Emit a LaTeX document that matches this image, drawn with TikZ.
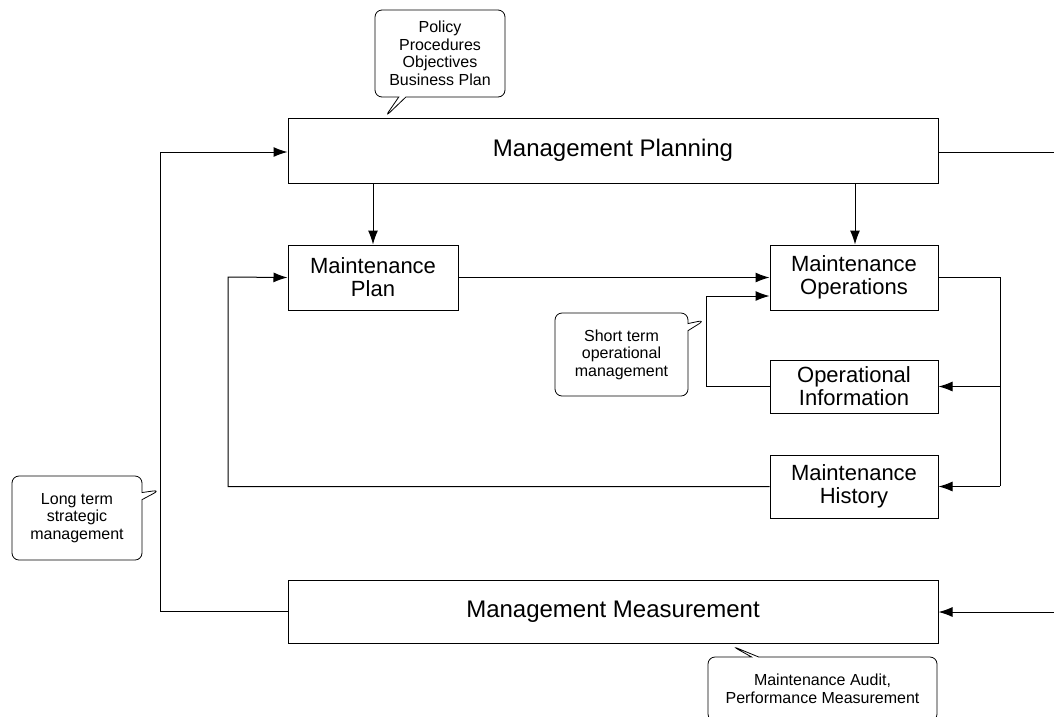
\documentclass[tikz,border=0pt]{standalone}
\usepackage{fontspec}
\setmainfont{Liberation Sans}
\usepackage{tikz}
\usetikzlibrary{positioning}
\usetikzlibrary{calc}
\usetikzlibrary{arrows.meta}
\usetikzlibrary{shapes.callouts}

\begin{document}
\begin{tikzpicture}[x=1pt, y=-1pt,
    box/.style={draw=black, line width=1pt, align=center, inner sep=0pt},
    bigbox/.style={box, minimum width=650pt, font=\fontsize{24}{28}\selectfont},
    smallbox/.style={box, minimum width=168pt, font=\fontsize{22}{23}\selectfont},
    note/.style={rectangle callout, draw=black, line width=0.8pt, rounded corners=7pt,
      align=center, inner sep=0pt, font=\fontsize{16}{17.5}\selectfont},
    flow/.style={line width=1pt, -{Latex[length=14pt,width=10pt]}},
    link/.style={line width=1pt}]
      \useasboundingbox (0,0) rectangle (1054,716);
      % x-position of the left return line
      \def\xleft{160}
      % x-position of the right feedback line
      \def\xright{1000}
      % Main planning and measurement boxes
      \node[bigbox, minimum height=65pt] (plan) at (613,150.5) {Management Planning};
      \node[bigbox, minimum height=63pt] (meas) at (613,611.5) {Management Measurement};
      % Inner boxes
      \node[smallbox, minimum width=170pt, minimum height=65pt] (mplan) at (373,277.5) {Maintenance\\Plan};
      \node[smallbox, minimum height=65pt] (mops) at (854,277.5) {Maintenance\\Operations};
      \node[smallbox, minimum height=53pt] (oinfo) at (854,386.5) {Operational\\Information};
      \node[smallbox, minimum height=63pt] (mhist) at (854,486.5) {Maintenance\\History};
      % Free ends at the right edge
      \coordinate (rtop) at (1054,152);
      \coordinate (rbot) at (1054,612);
      % Top-down arrows
      \draw[flow] (plan.south -| mplan.north) -- (mplan.north);
      \draw[flow] (plan.south -| 855,0) -- (855,0 |- mops.north);
      \draw[flow] (mplan.east) -- (mops.west);
      % Feedback from operations
      \draw[link] (mops.east) -| (\xright,486);
      \draw[flow] (\xright,0 |- oinfo.east) -- (oinfo.east);
      \draw[flow] (\xright,0 |- mhist.east) -- (mhist.east);
      \draw[flow] (oinfo.west) -| (706,296) -- (mops.west |- 0,296);
      \draw[flow] (mhist.west) -| (228,277) -- (mplan.west);
      % Long term loop
      \draw[flow] (meas.west) -| (\xleft,152) -- (plan.west |- 0,152);
      \draw[link] (plan.east |- rtop) -- (rtop);
      \draw[flow] (rbot) -- (meas.east |- rbot);
      % Callouts
      \node[note, minimum width=130pt, minimum height=87pt,
        callout absolute pointer={(385,117)}] (cpol) at (440,53.5)
        {Policy\\Procedures\\Objectives\\Business Plan};
      \node[note, minimum width=130pt, minimum height=84pt,
        callout absolute pointer={(160,490)}] (clong) at (77,518)
        {Long term\\strategic\\management};
      \node[note, minimum width=133pt, minimum height=83pt,
        callout absolute pointer={(705,320)}] (cshort) at (621.5,354.5)
        {Short term\\operational\\management};
      \node[note, minimum width=229pt, minimum height=64pt,
        callout absolute pointer={(732,646)}] (caudit) at (822.5,689)
        {Maintenance Audit,\\Performance Measurement};
\end{tikzpicture}
\end{document}
